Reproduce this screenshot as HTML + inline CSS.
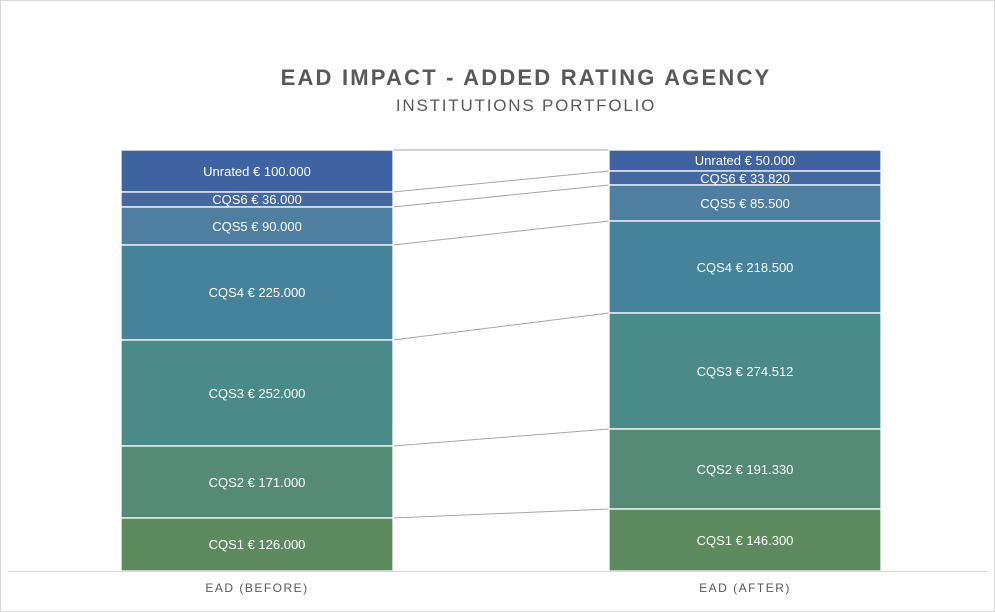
<!DOCTYPE html>
<html><head><meta charset="utf-8"><style>
body{margin:0;background:#fff}
svg{display:block;font-family:"Liberation Sans",sans-serif}
</style></head><body>
<svg width="995" height="612" viewBox="0 0 995 612">
<rect x="0.5" y="0.5" width="994" height="611" fill="#fff" stroke="#d9d9d9"/>
<text x="526" y="85" text-anchor="middle" font-size="22" font-weight="bold" fill="#595959" letter-spacing="2.2">EAD IMPACT - ADDED RATING AGENCY</text>
<text x="526" y="111" text-anchor="middle" font-size="17" fill="#595959" letter-spacing="1.8">INSTITUTIONS PORTFOLIO</text>
<g stroke="#a6a6a6" stroke-width="1">
<line x1="393" y1="150" x2="609" y2="150"/>
<line x1="393" y1="192" x2="609" y2="171"/>
<line x1="393" y1="207" x2="609" y2="185"/>
<line x1="393" y1="245" x2="609" y2="221"/>
<line x1="393" y1="340" x2="609" y2="313"/>
<line x1="393" y1="446" x2="609" y2="429"/>
<line x1="393" y1="518" x2="609" y2="509"/>
</g>
<g stroke="#fff" stroke-width="1.3">
<rect x="121" y="150" width="272" height="42" fill="#3f62a0"/>
<rect x="121" y="192" width="272" height="15" fill="#4468a0"/>
<rect x="121" y="207" width="272" height="38" fill="#4e7ea0"/>
<rect x="121" y="245" width="272" height="95" fill="#45839a"/>
<rect x="121" y="340" width="272" height="106" fill="#4a8a88"/>
<rect x="121" y="446" width="272" height="72" fill="#548a76"/>
<rect x="121" y="518" width="272" height="53" fill="#5c8a5e"/>
<rect x="609" y="150" width="272" height="21" fill="#3f62a0"/>
<rect x="609" y="171" width="272" height="14" fill="#4468a0"/>
<rect x="609" y="185" width="272" height="36" fill="#4e7ea0"/>
<rect x="609" y="221" width="272" height="92" fill="#45839a"/>
<rect x="609" y="313" width="272" height="116" fill="#4a8a88"/>
<rect x="609" y="429" width="272" height="80" fill="#548a76"/>
<rect x="609" y="509" width="272" height="62" fill="#5c8a5e"/>
</g>
<g fill="#fff" font-size="13" text-anchor="middle">
<text x="257" y="176">Unrated € 100.000</text>
<text x="257" y="204">CQS6 € 36.000</text>
<text x="257" y="231">CQS5 € 90.000</text>
<text x="257" y="297">CQS4 € 225.000</text>
<text x="257" y="398">CQS3 € 252.000</text>
<text x="257" y="487">CQS2 € 171.000</text>
<text x="257" y="549">CQS1 € 126.000</text>
<text x="745" y="165">Unrated € 50.000</text>
<text x="745" y="183">CQS6 € 33.820</text>
<text x="745" y="208">CQS5 € 85.500</text>
<text x="745" y="272">CQS4 € 218.500</text>
<text x="745" y="376">CQS3 € 274.512</text>
<text x="745" y="474">CQS2 € 191.330</text>
<text x="745" y="545">CQS1 € 146.300</text>
</g>
<line x1="8" y1="571.5" x2="987" y2="571.5" stroke="#d9d9d9"/>
<g fill="#595959" font-size="12" text-anchor="middle" letter-spacing="1.5">
<text x="257" y="592">EAD (BEFORE)</text>
<text x="745" y="592">EAD (AFTER)</text>
</g>
</svg>
</body></html>
